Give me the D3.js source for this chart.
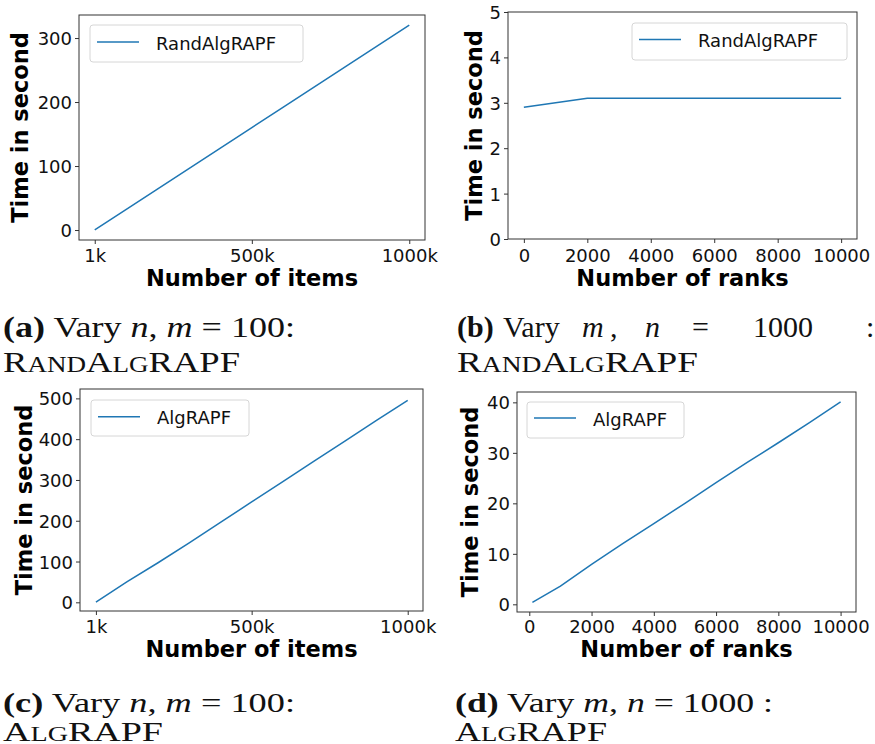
<!DOCTYPE html>
<html>
<head>
<meta charset="utf-8">
<script src="https://cdn.jsdelivr.net/npm/d3@7"></script>
<style>
  html, body { margin: 0; padding: 0; background: #fff; }
  svg { display: block; }
</style>
</head>
<body>
<div id="chart"></div>
<script>
// ---- data ----
const itemsK = [1, 100, 200, 300, 400, 500, 600, 700, 800, 900, 1000];
const randAlgByItems = [0.3, 32, 64, 96, 128, 160, 192, 224, 256, 288, 320];
const algByItems = [0.5, 50, 97, 146, 196, 246, 296, 346, 396, 446, 495];

const ranksRand = [0, 2000, 4000, 6000, 8000, 10000];
const randAlgByRanks = [2.9, 3.1, 3.1, 3.1, 3.1, 3.1];

const ranksAlg = [100, 1000, 2000, 3000, 4000, 5000, 6000, 7000, 8000, 9000, 10000];
const algByRanks = [0.4, 3.6, 7.9, 12.0, 16.0, 20.0, 24.1, 28.1, 32.0, 36.0, 40.1];

const itemTicks = [1, 500, 1000];
const itemTickLabels = ["1k", "500k", "1000k"];
const rankTicks = [0, 2000, 4000, 6000, 8000, 10000];

const lineColor = "#1f77b4";
const sans = "'DejaVu Sans', sans-serif";
const serif = "'Liberation Serif', 'DejaVu Serif', serif";

const width = 875, height = 744;
const svg = d3.select("#chart").append("svg")
  .attr("width", width).attr("height", height);

const panels = [
  {
    xs: itemsK, ys: randAlgByItems, name: "RandAlgRAPF",
    frame: { x0: 79, x1: 425, y0: 15, y1: 240 },
    xDomain: [-49, 1050], yDomain: [-15.6, 336],
    xTicks: itemTicks, xFmt: (d, i) => itemTickLabels[i],
    yTicks: [0, 100, 200, 300],
    xLabel: "Number of items", yLabelX: 28.3,
    tickBase: 262, xLabelBase: 286,
    legend: { x: 90, y: 25, w: 213, h: 37, ly: 42 },
  },
  {
    xs: ranksRand, ys: randAlgByRanks, name: "RandAlgRAPF",
    frame: { x0: 508, x1: 857, y0: 12, y1: 239 },
    xDomain: [-500, 10500], yDomain: [0, 5],
    xTicks: rankTicks, xFmt: d => d,
    yTicks: [0, 1, 2, 3, 4, 5],
    xLabel: "Number of ranks", yLabelX: 482,
    tickBase: 262, xLabelBase: 286,
    legend: { x: 632, y: 23, w: 215, h: 37, ly: 39.5 },
  },
  {
    xs: itemsK, ys: algByItems, name: "AlgRAPF",
    frame: { x0: 80, x1: 423, y0: 389, y1: 611 },
    xDomain: [-50, 1049], yDomain: [-21.3, 523],
    xTicks: itemTicks, xFmt: (d, i) => itemTickLabels[i],
    yTicks: [0, 100, 200, 300, 400, 500],
    xLabel: "Number of items", yLabelX: 31.7,
    tickBase: 633, xLabelBase: 657,
    legend: { x: 91, y: 400, w: 158, h: 36, ly: 416.7 },
  },
  {
    xs: ranksAlg, ys: algByRanks, name: "AlgRAPF",
    frame: { x0: 517, x1: 856, y0: 392, y1: 612 },
    xDomain: [-395, 10495], yDomain: [-1.52, 42.05],
    xTicks: rankTicks, xFmt: d => d,
    yTicks: [0, 10, 20, 30, 40],
    xLabel: "Number of ranks", yLabelX: 478.3,
    tickBase: 633, xLabelBase: 657,
    legend: { x: 527, y: 402, w: 157, h: 36, ly: 418 },
  },
];

function drawPanel(p) {
  const f = p.frame;
  const x = d3.scaleLinear().domain(p.xDomain).range([f.x0, f.x1]);
  const y = d3.scaleLinear().domain(p.yDomain).range([f.y1, f.y0]);
  const g = svg.append("g");

  // data line
  g.append("path")
    .datum(p.xs.map((d, i) => [d, p.ys[i]]))
    .attr("fill", "none")
    .attr("stroke", lineColor)
    .attr("stroke-width", 1.5)
    .attr("d", d3.line().x(d => x(d[0])).y(d => y(d[1])));

  // axes
  const xAxis = g.append("g")
    .attr("transform", `translate(0,${f.y1})`)
    .call(d3.axisBottom(x).tickValues(p.xTicks).tickFormat(p.xFmt)
      .tickSize(4).tickPadding(3).tickSizeOuter(0));
  const yAxis = g.append("g")
    .attr("transform", `translate(${f.x0},0)`)
    .call(d3.axisLeft(y).tickValues(p.yTicks).tickFormat(d3.format("d"))
      .tickSizeOuter(0).tickSize(4).tickPadding(3));
  [xAxis, yAxis].forEach(a => {
    a.select(".domain").remove();
    a.selectAll(".tick line").attr("stroke", "#333");
    a.selectAll(".tick text")
      .attr("fill", "#111")
      .style("font-family", sans)
      .style("font-size", "18px");
  });
  xAxis.selectAll(".tick text")
    .attr("dy", null)
    .attr("y", p.tickBase - f.y1);
  yAxis.selectAll(".tick text").attr("dy", "0.36em");

  // frame
  g.append("rect")
    .attr("x", f.x0).attr("y", f.y0)
    .attr("width", f.x1 - f.x0).attr("height", f.y1 - f.y0)
    .attr("fill", "none")
    .attr("stroke", "#333")
    .attr("stroke-width", 1);

  // axis labels
  g.append("text")
    .attr("x", (f.x0 + f.x1) / 2).attr("y", p.xLabelBase)
    .attr("text-anchor", "middle")
    .style("font-family", sans).style("font-weight", "bold")
    .style("font-size", "22.5px")
    .text(p.xLabel);
  g.append("text")
    .attr("transform", `translate(${p.yLabelX},${(f.y0 + f.y1) / 2}) rotate(-90)`)
    .attr("text-anchor", "middle")
    .style("font-family", sans).style("font-weight", "bold")
    .style("font-size", "22.5px")
    .text("Time in second");

  // legend
  const l = p.legend;
  g.append("rect")
    .attr("x", l.x).attr("y", l.y).attr("width", l.w).attr("height", l.h)
    .attr("rx", 3)
    .attr("fill", "white").attr("fill-opacity", 0.8)
    .attr("stroke", "#d6d6d6");
  g.append("line")
    .attr("x1", l.x + 7).attr("x2", l.x + 49)
    .attr("y1", l.ly).attr("y2", l.ly)
    .attr("stroke", lineColor).attr("stroke-width", 1.5);
  g.append("text")
    .attr("x", l.x + 66).attr("y", l.ly + 7.5)
    .style("font-family", sans).style("font-size", "18px")
    .attr("fill", "#111")
    .text(p.name);
}

panels.forEach(drawPanel);

// ---- sub-figure captions (LaTeX style) ----
// each token: [text, style]  b = bold, i = italic, sc = small-cap letters
const capA1 = [["(a)", "b"], [" Vary ", ""], ["n", "i"], [", ", ""], ["m", "i"], [" = 100:", ""]];
const capB1 = [["(b)", "b"], ["Vary", ""], ["m", "i"], [",", ""], ["n", "i"], ["=", ""], ["1000", ""], [":", ""]];
const capC1 = [["(c)", "b"], [" Vary ", ""], ["n", "i"], [", ", ""], ["m", "i"], [" = 100:", ""]];
const capD1 = [["(d)", "b"], [" Vary ", ""], ["m", "i"], [", ", ""], ["n", "i"], [" = 1000 :", ""]];
const capRand = [["R", ""], ["AND", "sc"], ["A", ""], ["LG", "sc"], ["RAPF", ""]];
const capAlg = [["A", ""], ["LG", "sc"], ["RAPF", ""]];

function caption(tokens, x, y, size, len, xs) {
  const t = svg.append("text")
    .attr("x", x).attr("y", y)
    .style("font-family", serif)
    .style("font-size", size + "px")
    .attr("fill", "#111")
    .style("white-space", "pre");
  if (len) t.attr("textLength", len).attr("lengthAdjust", "spacingAndGlyphs");
  tokens.forEach(([s, st], i) => {
    const sp = t.append("tspan").text(s);
    if (xs) sp.attr("x", xs[i]);
    if (st === "b") sp.style("font-weight", "bold");
    if (st === "i") sp.style("font-style", "italic");
    if (st === "sc") sp.style("font-size", (size * 0.74) + "px");
  });
}

caption(capA1, 3, 336.5, 30, 292);
caption(capRand, 3, 371.7, 30, 237);
caption(capB1, 457, 336.5, 30, null, [457, 503, 582, 610, 645, 692, 753, 866]);
caption(capRand, 457, 371.7, 30, 241);
caption(capC1, 3, 711.5, 28, 292);
caption(capAlg, 3, 741, 28, 160);
caption(capD1, 455, 711.5, 28, 318);
caption(capAlg, 455, 741, 28, 152);
</script>
</body>
</html>
